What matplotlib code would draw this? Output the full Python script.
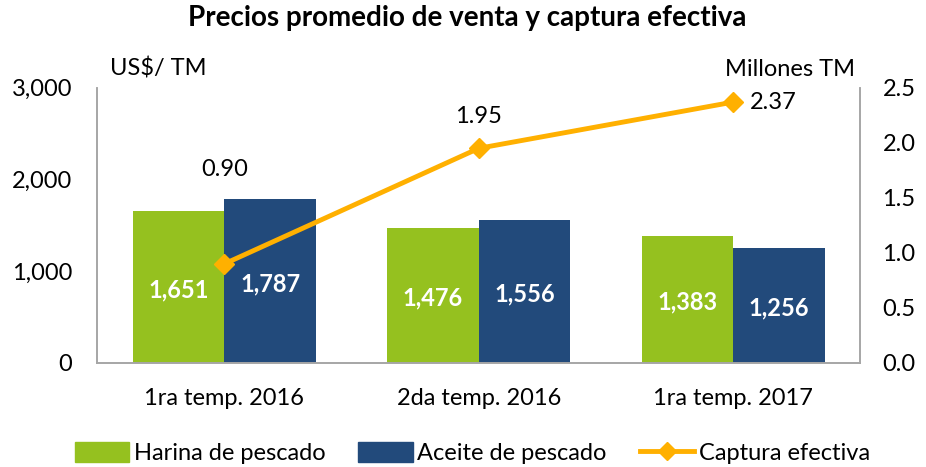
import matplotlib.pyplot as plt
import numpy as np
from matplotlib.patches import Patch
from matplotlib.lines import Line2D
from matplotlib.ticker import FuncFormatter

plt.rcParams['font.family'] = ['Lato', 'DejaVu Sans']

# datos
categorias = ['1ra temp. 2016', '2da temp. 2016', '1ra temp. 2017']
harina = [1651, 1476, 1383]
aceite = [1787, 1556, 1256]
captura = [0.90, 1.95, 2.37]

verde = '#95C11F'
azul = '#224A7B'
naranja = '#FFB000'
gris = '#A6A6A6'

fig = plt.figure(figsize=(9.26, 4.67), dpi=100)
ax = fig.add_axes([0.105, 0.223, 0.824, 0.589])
ax2 = ax.twinx()

x = np.arange(len(categorias))
w = 0.36
b1 = ax.bar(x - w / 2, harina, w, color=verde)
b2 = ax.bar(x + w / 2, aceite, w, color=azul)

for barras, vals in [(b1, harina), (b2, aceite)]:
    for b, v in zip(barras, vals):
        ax.text(b.get_x() + b.get_width() / 2, v / 2 - 30, f'{v:,}', ha='center', va='center',
                color='white', fontsize=17, fontweight='bold')

ax.set_xlim(-0.5, 2.5)
ax.set_ylim(0, 3000)
ax.set_yticks([0, 1000, 2000, 3000])
ax.yaxis.set_major_formatter(FuncFormatter(lambda v, p: f'{int(v):,}'))
ax.set_xticks(x)
ax.set_xticklabels(categorias)

ax2.plot(x, captura, color=naranja, lw=3.5, marker='D', markersize=10, zorder=5)
ax2.set_ylim(0, 2.5)
ax2.set_yticks([0, 0.5, 1.0, 1.5, 2.0, 2.5])
ax2.yaxis.set_major_formatter(FuncFormatter(lambda v, p: f'{v:.1f}'))

# etiquetas de la captura
offsets = [(0, 68), (0, 23), (12, 0)]
alineacion = ['center', 'center', 'left']
for xi, v, off, ha in zip(x, captura, offsets, alineacion):
    ax2.annotate(f'{v:.2f}', (xi, v), xytext=off, textcoords='offset points',
                 ha=ha, va='center', fontsize=17)

for a in (ax, ax2):
    a.tick_params(length=0, labelsize=17)
    a.spines['top'].set_visible(False)
    for s in ('left', 'right', 'bottom'):
        a.spines[s].set_color(gris)
        a.spines[s].set_linewidth(1.2)
ax.tick_params(axis='x', pad=18)
ax.tick_params(axis='y', pad=18)
ax2.tick_params(axis='y', pad=16)

ax.text(0.017, 1.03, 'US$/ TM', transform=ax.transAxes, fontsize=17, ha='left', va='bottom')
ax2.text(0.993, 1.03, 'Millones TM', transform=ax2.transAxes, fontsize=17, ha='right', va='bottom')

fig.suptitle('Precios promedio de venta y captura efectiva', fontsize=20, fontweight='bold',
             x=0.505, y=0.99)

handles = [Patch(color=verde), Patch(color=azul),
           Line2D([], [], color=naranja, lw=3.5, marker='D', markersize=9)]
fig.legend(handles, ['Harina de pescado', 'Aceite de pescado', 'Captura efectiva'],
           loc='center', bbox_to_anchor=(0.51, 0.03), ncol=3, frameon=False, fontsize=17,
           handlelength=2.3, handleheight=0.9, columnspacing=1.4, handletextpad=0.2)

fig.savefig('out.png', dpi=100)
